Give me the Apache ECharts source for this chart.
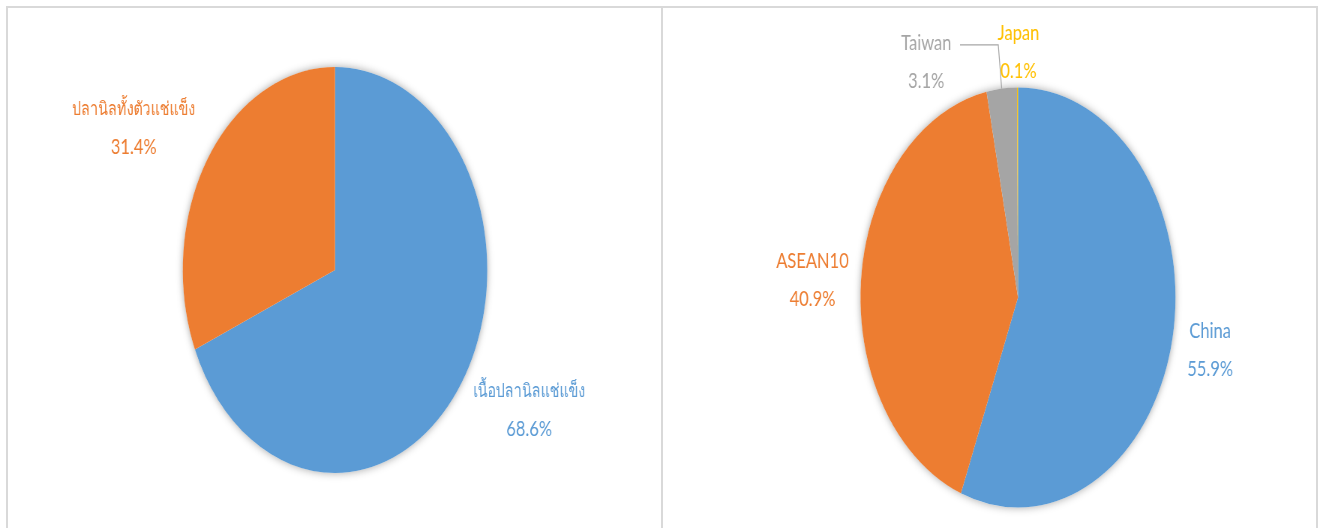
<!DOCTYPE html>
<html><head><meta charset="utf-8">
<script src="https://cdn.jsdelivr.net/npm/echarts@6/dist/echarts.min.js"></script>
<style>
html,body{margin:0;padding:0;background:#fff;width:1325px;height:528px;overflow:hidden}
#stage{position:absolute;left:0;top:0;width:1767px;height:528px;transform:scaleX(0.75);transform-origin:0 0}
#chart{width:1767px;height:528px}
.b{position:absolute;background:#d9d9d9}
</style></head><body>
<div id="stage"><div id="chart"></div></div>
<div class="b" style="left:6px;top:6px;width:1312px;height:2px"></div>
<div class="b" style="left:6px;top:6px;width:2px;height:522px"></div>
<div class="b" style="left:661px;top:6px;width:2px;height:522px"></div>
<div class="b" style="left:1316px;top:6px;width:2px;height:522px"></div>
<script>
// ---- data ----
const productCategories = ['เนื้อปลานิลแช่แข็ง', 'ปลานิลทั้งตัวแช่แข็ง'];
const productShares = [68.6, 31.4];
const marketCategories = ['China', 'ASEAN10', 'Taiwan', 'Japan'];
const marketShares = [55.9, 40.9, 3.1, 0.1];

// ---- styles / layout ----
const productColors = ['#5B9BD5', '#ED7D31'];
const marketColors = ['#5B9BD5', '#ED7D31', '#A5A5A5', '#FFC000'];
const productLabelTweaks = [
  {len: 51, len2: -32.9, dist: 0, pad: 0},
  {len: 55.3, len2: -27, dist: 0, pad: 0}
];
const marketLabelTweaks = [
  {len: 72.6, len2: -64.5, dist: 0, pad: 0},
  {len: 2.5, len2: 19.3, dist: 0, pad: 0},
  {len: 43.9, len2: 51, dist: 2, pad: 33, line: true},
  {len: 35.5, len2: -44.5, dist: 0, pad: 0}
];
const FONT = 'Lato, "Noto Sans", "DejaVu Sans", sans-serif';

function makePie(cats, vals, colors, tweaks, center, radius, labelWidth, nameSize) {
  const total = vals.reduce((a, b) => a + b, 0);
  const backdrop = {
    type: 'pie', silent: true, animation: false, z: 1,
    center: center, radius: radius,
    label: {show: false}, labelLine: {show: false},
    itemStyle: {color: '#ffffff', shadowBlur: 9, shadowColor: 'rgba(0,0,0,0.35)'},
    emphasis: {disabled: true},
    data: [{value: total, name: ''}]
  };
  const main = {
    type: 'pie', animation: false, z: 2,
    center: center, radius: radius,
    startAngle: 90, clockwise: true,
    avoidLabelOverlap: false,
    emphasis: {disabled: true},
    label: {
      show: true, position: 'outside', alignTo: 'none',
      width: labelWidth, overflow: 'none',
      fontFamily: FONT, fontSize: 22,
      formatter: p => '{n|' + p.name + '}\n{p|' + p.value.toFixed(1) + '%}',
      rich: {
        n: {align: 'center', fontFamily: FONT, fontSize: nameSize, lineHeight: 38},
        p: {align: 'center', fontFamily: FONT, fontSize: 22, lineHeight: 38}
      }
    },
    data: cats.map((c, i) => {
      const t = tweaks[i];
      return {
        name: c, value: vals[i],
        itemStyle: {color: colors[i]},
        label: {color: colors[i], distanceToLabelLine: t.dist, padding: [t.pad, 0, 0, 0]},
        labelLine: {
          show: !!t.line, length: t.len, length2: t.len2,
          minTurnAngle: 0, maxSurfaceAngle: 180,
          lineStyle: {color: '#A6A6A6', width: 1.2}
        }
      };
    })
  };
  return [backdrop, main];
}

const chart = echarts.init(document.getElementById('chart'), null, {renderer: 'canvas'});
chart.setOption({
  backgroundColor: '#ffffff',
  animation: false,
  series: [].concat(
    makePie(productCategories, productShares, productColors, productLabelTweaks, [446.7, 270], 203, 160, 19),
    makePie(marketCategories, marketShares, marketColors, marketLabelTweaks, [1357.3, 297.5], 210, 86, 22)
  )
});
</script>
</body></html>
